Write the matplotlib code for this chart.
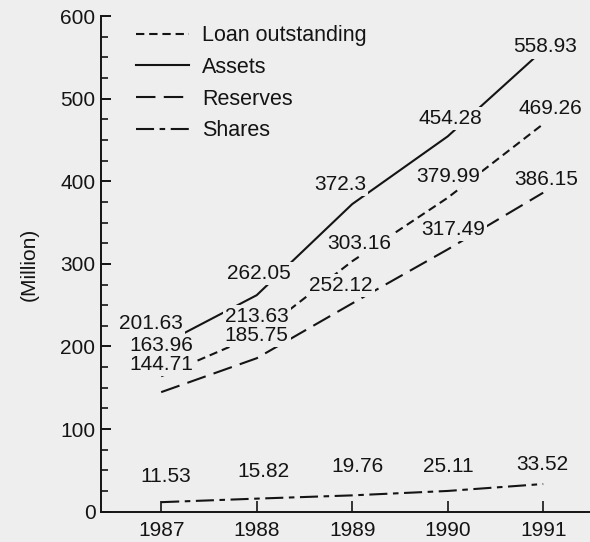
import numpy as np
import matplotlib
matplotlib.use('Agg')
import matplotlib.pyplot as plt
from matplotlib.ticker import MultipleLocator

plt.rcParams['font.family'] = ['Liberation Sans', 'DejaVu Sans']
plt.rcParams['lines.scale_dashes'] = False

years = [1987, 1988, 1989, 1990, 1991]
loans = [163.96, 213.63, 303.16, 379.99, 469.26]
assets = [201.63, 262.05, 372.3, 454.28, 558.93]
reserves = [144.71, 185.75, 252.12, 317.49, 386.15]
shares = [11.53, 15.82, 19.76, 25.11, 33.52]

bg = '#eeeeee'
ink = '#141414'
fs = 15

fig = plt.figure(figsize=(5.9, 5.42), dpi=100, facecolor=bg)
ax = fig.add_axes([101/590, 30.3/542, 489/590, 495.7/542])
ax.set_facecolor(bg)

lw = 1.5
ax.plot(years, loans, color=ink, lw=lw, dashes=(6, 3.5), label='Loan outstanding')
ax.plot(years, assets, color=ink, lw=lw, label='Assets')
ax.plot(years, reserves, color=ink, lw=lw, dashes=(14, 6), label='Reserves')
ax.plot(years, shares, color=ink, lw=lw, dashes=(13, 4, 4, 4), label='Shares')

# label offsets in pixels (dx, dy) relative to each point
offs = {
    'assets': [(-10, 22), (2, 22), (-12, 20), (3, 18), (2, 3)],
    'loans': [(0, 31), (0, 19), (7, 18), (0, 21), (7, 16)],
    'reserves': [(0, 28), (0, 23), (-11, 18), (5, 20), (3, 13)],
    'shares': [(5, 26), (7, 27), (5, 29), (1, 24), (-1, 20)],
}
series = {'assets': assets, 'loans': loans, 'reserves': reserves, 'shares': shares}
for name, vals in series.items():
    for x, v, (dx, dy) in zip(years, vals, offs[name]):
        ax.annotate(f'{v:g}', (x, v), xytext=(dx, dy), textcoords='offset pixels',
                    ha='center', va='center', fontsize=fs, color=ink, zorder=5,
                    bbox=dict(boxstyle='square,pad=0.1', fc=bg, ec='none'))

ax.set_xlim(1986.37, 1991.49)
ax.set_ylim(0, 600)
ax.set_xticks(years)
ax.set_yticks(np.arange(0, 601, 100))
ax.yaxis.set_minor_locator(MultipleLocator(25))

for s in ['top', 'right']:
    ax.spines[s].set_visible(False)
for s in ['left', 'bottom']:
    ax.spines[s].set_linewidth(1.4)
    ax.spines[s].set_color(ink)

ax.tick_params(axis='y', which='major', direction='in', length=7.5, width=1.4,
               pad=4, labelsize=fs, colors=ink)
ax.tick_params(axis='y', which='minor', direction='in', length=5, width=1.2, colors=ink)
ax.tick_params(axis='x', direction='in', length=8, width=1.2, pad=7,
               labelsize=fs, colors=ink)

fig.text(29/590, 1 - 264/542, '(Million)', rotation=90, ha='center', va='center',
         fontsize=fs, color=ink)

leg = ax.legend(loc='upper left', bbox_to_anchor=(0.072, 0.981), frameon=False,
                fontsize=15.5, handlelength=2.45, handletextpad=0.62,
                labelspacing=0.49, borderpad=0, borderaxespad=0)
for t in leg.get_texts():
    t.set_color(ink)

fig.savefig('out.png', dpi=100, facecolor=bg)
